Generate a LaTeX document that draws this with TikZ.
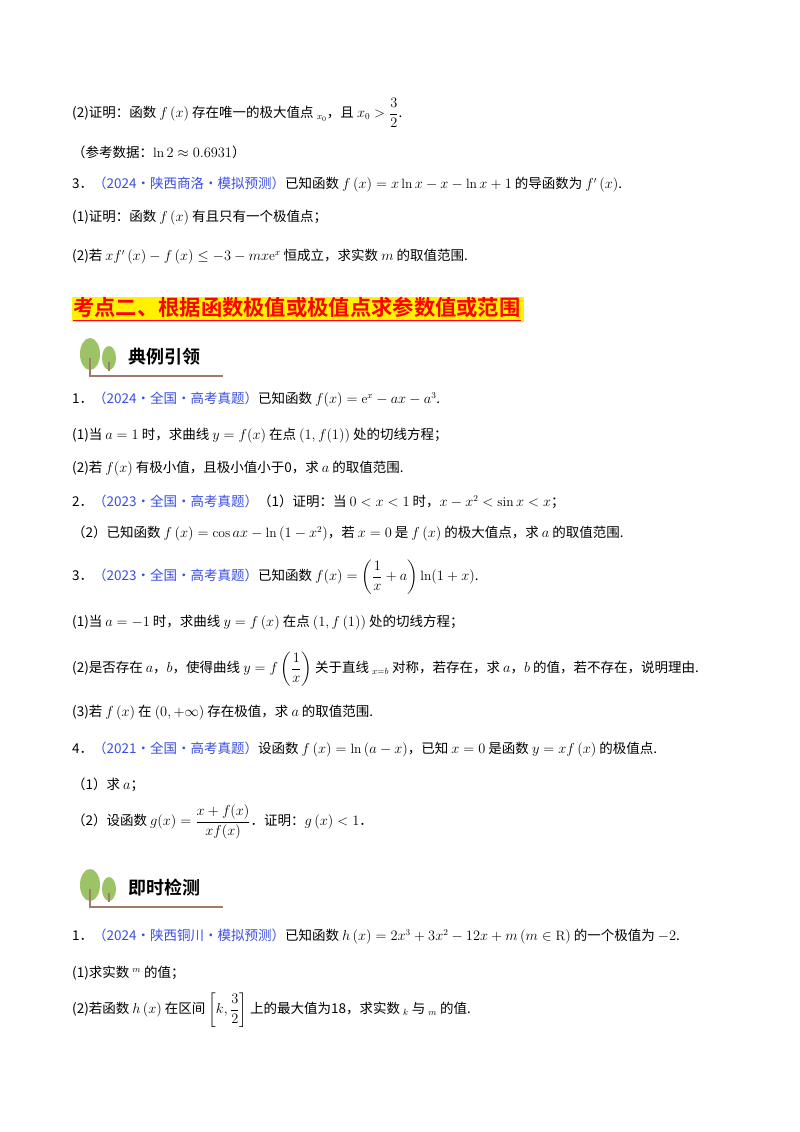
\documentclass[tikz,border=0pt]{standalone}
\usepackage{amsmath}
\usepackage{fontspec}
\newfontfamily\cjk{Noto Sans CJK SC}
\newfontfamily\cjkb{Noto Sans CJK SC Bold}
\definecolor{srcblue}{HTML}{3A4FE0}
\definecolor{leaf}{HTML}{9CC466}
\definecolor{trunk}{HTML}{A07A6A}
\newcommand{\src}[1]{\textcolor{srcblue}{#1}}
\begin{document}
\begin{tikzpicture}[x=1pt,y=-1pt,
  ln/.style={anchor=west,inner sep=0pt,font=\cjk\fontsize{13.5}{15}\selectfont},
  hd/.style={anchor=west,inner sep=0pt,font=\cjkb\fontsize{18}{20}\selectfont}]
\useasboundingbox (0,0) rectangle (800,1132);
\fill[white] (0,0) rectangle (800,1132);
\newcommand{\icon}[3]{%
  \fill[leaf] (#1+12,#2-2) ellipse (10 and 16);
  \fill[leaf] (#1+31,#2+2) ellipse (7 and 12);
  \draw[trunk,line width=1.5pt] (#1+12,#2+2) -- (#1+12,#2+20) -- (#1+145,#2+20);
  \draw[trunk,line width=1.2pt] (#1+31,#2+6) -- (#1+31,#2+15);
  \node[hd] at (#1+50,#2+1) {#3};}

\node[ln] (l1) at (72,113) {(2)证明：函数 $f\left(x\right)$ 存在唯一的极大值点 $_{x_0}$，且 $x_0>\dfrac{3}{2}$.};
\node[ln] (l2) at (72,152) {（参考数据：$\ln2\approx0.6931$）};
\node[ln] (l3) at (72,185) {3．\src{（2024·陕西商洛·模拟预测）}已知函数 $f\left(x\right)=x\ln x-x-\ln x+1$ 的导函数为 $f'\left(x\right)$.};
\node[ln] (l4) at (72,218) {(1)证明：函数 $f\left(x\right)$ 有且只有一个极值点；};
\node[ln] (l5) at (72,257) {(2)若 $xf'\left(x\right)-f\left(x\right)\le-3-mx\mathrm{e}^x$ 恒成立，求实数 $m$ 的取值范围.};

\fill[yellow] (72,297) rectangle (524,322);
\node[hd,text=red,font=\cjkb\fontsize{21.3}{23}\selectfont] (ban) at (73,309) {\underline{考点二、根据函数极值或极值点求参数值或范围}};

\icon{78}{356}{典例引领}

\node[ln] (a1) at (72,400) {1．\src{（2024·全国·高考真题）}已知函数 $f(x)=\mathrm{e}^x-ax-a^3$.};
\node[ln] (a2) at (72,436) {(1)当 $a=1$ 时，求曲线 $y=f(x)$ 在点 $\left(1,f(1)\right)$ 处的切线方程；};
\node[ln] (a3) at (72,469) {(2)若 $f(x)$ 有极小值，且极小值小于0，求 $a$ 的取值范围.};
\node[ln] (a4) at (72,502) {2．\src{（2023·全国·高考真题）}（1）证明：当 $0<x<1$ 时，$x-x^2<\sin x<x$；};
\node[ln] (a5) at (72,534) {（2）已知函数 $f\left(x\right)=\cos ax-\ln\left(1-x^2\right)$，若 $x=0$ 是 $f\left(x\right)$ 的极大值点，求 $a$ 的取值范围.};
\node[ln] (a6) at (72,577) {3．\src{（2023·全国·高考真题）}已知函数 $f(x)=\left(\dfrac{1}{x}+a\right)\ln(1+x)$.};
\node[ln] (a7) at (72,623) {(1)当 $a=-1$ 时，求曲线 $y=f\left(x\right)$ 在点 $\left(1,f\left(1\right)\right)$ 处的切线方程；};
\node[ln] (a8) at (72,669) {(2)是否存在 $a$，$b$，使得曲线 $y=f\left(\dfrac{1}{x}\right)$ 关于直线 $_{x=b}$ 对称，若存在，求 $a$，$b$ 的值，若不存在，说明理由.};
\node[ln] (a9) at (72,713) {(3)若 $f\left(x\right)$ 在 $\left(0,+\infty\right)$ 存在极值，求 $a$ 的取值范围.};
\node[ln] (a10) at (72,750) {4．\src{（2021·全国·高考真题）}设函数 $f\left(x\right)=\ln\left(a-x\right)$，已知 $x=0$ 是函数 $y=xf\left(x\right)$ 的极值点.};
\node[ln] (a11) at (72,785) {（1）求 $a$；};
\node[ln] (a12) at (72,822) {（2）设函数 $g(x)=\dfrac{x+f(x)}{xf(x)}$．证明：$g\left(x\right)<1$．};

\icon{78}{887}{即时检测}

\node[ln] (b1) at (72,937) {1．\src{（2024·陕西铜川·模拟预测）}已知函数 $h\left(x\right)=2x^3+3x^2-12x+m\left(m\in\mathrm{R}\right)$ 的一个极值为 $-2$.};
\node[ln] (b2) at (72,973) {(1)求实数 $^m$ 的值；};
\node[ln] (b3) at (72,1010) {(2)若函数 $h\left(x\right)$ 在区间 $\left[k,\dfrac{3}{2}\right]$ 上的最大值为18，求实数 $_k$ 与 $_m$ 的值.};
\end{tikzpicture}
\end{document}
